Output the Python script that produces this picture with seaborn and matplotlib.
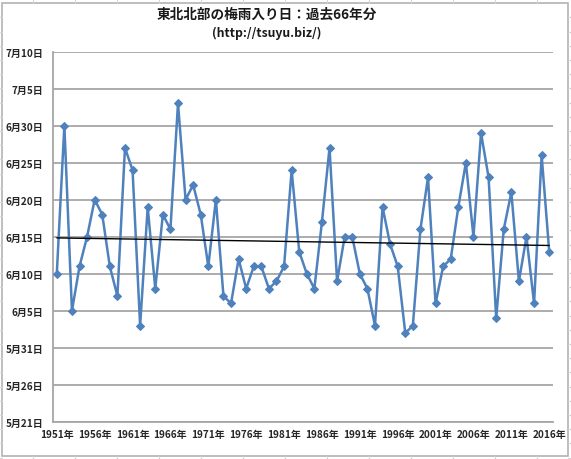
import numpy as np
import pandas as pd
import matplotlib
matplotlib.use("Agg")
import matplotlib.pyplot as plt
from matplotlib.lines import Line2D
from matplotlib.patches import Rectangle
import seaborn as sns

# ---- data -------------------------------------------------------------
years = list(range(1951, 2017))
# onset day expressed as "day of June" (6/10 -> 10, 7/3 -> 33, 5/31 -> 0)
onset_june_day = [10, 30, 5, 11, 15, 20, 18, 11, 7, 27,
                  24, 3, 19, 8, 18, 16, 33, 20, 22, 18,
                  11, 20, 7, 6, 12, 8, 11, 11, 8, 9,
                  11, 24, 13, 10, 8, 17, 27, 9, 15, 15,
                  10, 8, 3, 19, 14, 11, 2, 3, 16, 23,
                  6, 11, 12, 19, 25, 15, 29, 23, 4, 16,
                  21, 9, 15, 6, 26, 13]
y_tick_values = [-10, -5, 0, 5, 10, 15, 20, 25, 30, 35, 40]
y_tick_labels = ["5月21日", "5月26日", "5月31日", "6月5日", "6月10日", "6月15日",
                 "6月20日", "6月25日", "6月30日", "7月5日", "7月10日"]
x_label_years = list(range(1951, 2017, 5))
x_tick_labels = [f"{y}年" for y in x_label_years]
title_text = "東北北部の梅雨入り日：過去66年分"
subtitle_text = "(http://tsuyu.biz/)"

df = pd.DataFrame({"year": years, "day": onset_june_day})

# ---- style ------------------------------------------------------------
sns.set_style("white")
plt.rcParams["font.family"] = ["Noto Sans CJK JP", "DejaVu Sans"]
plt.rcParams["font.weight"] = "bold"

W, H = 571, 460
fig = plt.figure(figsize=(W / 100, H / 100), dpi=100)
fig.patch.set_facecolor("white")

def px(x0, y0, x1, y1):
    return [x0 / W, 1 - y1 / H, (x1 - x0) / W, (y1 - y0) / H]

ax = fig.add_axes(px(53, 52.5, 553, 423))

grid_col = "#a6a6a6"
for v in y_tick_values:
    ax.axhline(v, color=grid_col, lw=1.3, zorder=0)

line_col = "#4f81bd"
sns.lineplot(data=df, x="year", y="day", ax=ax, color=line_col, lw=1.8,
             marker="D", markersize=4.2, markeredgecolor=line_col,
             markerfacecolor=line_col, zorder=3)

# linear trend line
coef = np.polyfit(years, onset_june_day, 1)
trend = np.polyval(coef, years)
sns.lineplot(x=years, y=trend, ax=ax, color="black", lw=1.0, zorder=4)

ax.set_xlim(1950.5, 2016.5)
ax.set_ylim(-10, 40)
ax.set_xlabel("")
ax.set_ylabel("")

ax.set_yticks(y_tick_values)
ax.set_yticklabels(y_tick_labels, fontsize=7.2, fontweight="bold")
ax.set_xticks(x_label_years)
ax.set_xticklabels(x_tick_labels, fontsize=7.2, fontweight="bold")
ax.set_xticks(np.arange(1950.5, 2017, 1), minor=True)
ax.tick_params(axis="x", which="major", length=0, pad=5)
ax.tick_params(axis="x", which="minor", length=3, color=grid_col, width=1, direction="out")
ax.tick_params(axis="y", which="major", length=4, color=grid_col, width=1, pad=3)

for s in ["top", "right"]:
    ax.spines[s].set_visible(False)
ax.spines["left"].set_color(grid_col)
ax.spines["left"].set_linewidth(1.3)
ax.spines["bottom"].set_color(grid_col)
ax.spines["bottom"].set_linewidth(1.3)
if ax.get_legend() is not None:
    ax.get_legend().remove()

# titles
fig.text(267 / W, 1 - 15 / H, title_text, ha="center", va="center",
         fontsize=9.8, fontweight="bold", color="#1a1a1a")
fig.text(267 / W, 1 - 33 / H, subtitle_text, ha="center", va="center",
         fontsize=8.8, fontweight="bold", color="#1a1a1a")

# chart border and surrounding sheet cell lines
cell_col = "#d4d4d4"
for k in range(13):
    xx = (33 + 42 * k) / W
    fig.add_artist(Line2D([xx, xx], [1, 1 - 3.7 / H], color=cell_col, lw=0.8,
                          transform=fig.transFigure))
    fig.add_artist(Line2D([xx, xx], [0, 3 / H], color=cell_col, lw=0.8,
                          transform=fig.transFigure))
for k in range(32):
    yy = 1 - (18.3 + 14.2 * k) / H
    if yy < 0:
        break
    fig.add_artist(Line2D([0, 2 / W], [yy, yy], color=cell_col, lw=0.8,
                          transform=fig.transFigure))
    fig.add_artist(Line2D([568 / W, 1], [yy, yy], color=cell_col, lw=0.8,
                          transform=fig.transFigure))
fig.add_artist(Rectangle((2 / W, 3 / H), 566 / W, 453.3 / H, fill=False,
                         edgecolor="#b3b3b3", lw=1.2, transform=fig.transFigure))

fig.savefig("out.png", dpi=100)
